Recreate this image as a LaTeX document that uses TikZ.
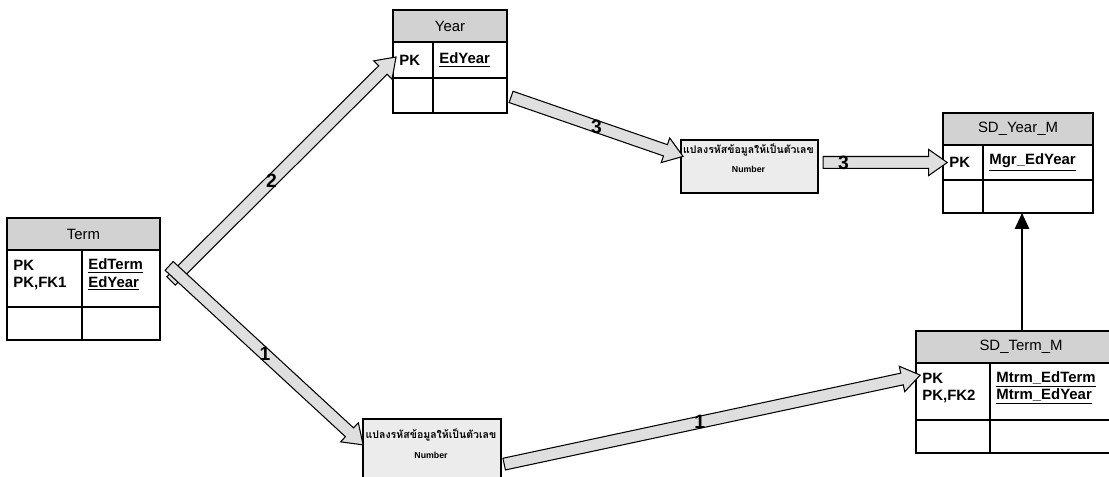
\documentclass[tikz,border=0pt]{standalone}
\usepackage{fontspec}
\setmainfont{Liberation Sans}
\newfontfamily\thaifont[Script=Thai]{Loma}
\usetikzlibrary{shapes.arrows,arrows.meta,positioning,calc}

\begin{document}
\begin{tikzpicture}[
    y=-1cm,
    hdr/.style={rectangle, draw, line width=1pt, fill=gray!35, anchor=north west,
                inner sep=0pt, outer sep=0pt, font=\fontsize{8.5}{10}\selectfont},
    cell/.style={rectangle, draw, line width=1pt, inner sep=0pt, outer sep=0pt},
    celltxt/.style={align=left, inner sep=0pt, font=\fontsize{8.5}{9.8}\selectfont\bfseries},
    proc/.style={rectangle, draw, line width=1pt, fill=gray!15, anchor=north west},
    thaitxt/.style={inner sep=0pt, font=\thaifont\fontsize{6}{7}\selectfont\bfseries},
    numtxt/.style={inner sep=0pt, font=\fontsize{5}{6}\selectfont\bfseries},
    blockarr/.style={single arrow, draw, semithick, fill=gray!25, inner sep=3.1pt,
                     outer sep=0pt, single arrow head extend=4pt,
                     single arrow tip angle=70, single arrow head indent=0pt},
    linkarr/.style={-{Triangle[length=9pt, width=8pt]}, line width=1.2pt},
    num/.style={inner sep=0pt, font=\fontsize{11}{12}\selectfont\bfseries}
]
\clip (0,0) rectangle (22.18,9.54);
\fill[white] (0,0) rectangle (22.18,9.54);

% Term
\node[hdr, minimum width=3.06cm, minimum height=0.64cm] (termh) at (0.14,4.36) {Term};
\node[cell, minimum width=1.50cm, minimum height=1.14cm, below right=0pt and 0pt of termh.south west] (termk) {};
\node[cell, minimum width=1.56cm, minimum height=1.14cm, right=0pt of termk] (terma) {};
\node[cell, minimum width=1.50cm, minimum height=0.66cm, below=0pt of termk] (termk2) {};
\node[cell, minimum width=1.56cm, minimum height=0.66cm, below=0pt of terma] (terma2) {};
\node[celltxt, right=0.12cm of termk.west, yshift=2pt] (termkt) {PK\\PK,FK1};
\node[celltxt, right=0.12cm of terma.west, yshift=2pt] (termat) {\underline{EdTerm}\\\underline{EdYear}};

% Year
\node[hdr, minimum width=2.28cm, minimum height=0.64cm] (yearh) at (7.86,0.20) {Year};
\node[cell, minimum width=0.80cm, minimum height=0.72cm, below right=0pt and 0pt of yearh.south west] (yeark) {};
\node[cell, minimum width=1.48cm, minimum height=0.72cm, right=0pt of yeark] (yeara) {};
\node[cell, minimum width=0.80cm, minimum height=0.70cm, below=0pt of yeark] (yeark2) {};
\node[cell, minimum width=1.48cm, minimum height=0.70cm, below=0pt of yeara] (yeara2) {};
\node[celltxt, right=0.12cm of yeark.west] (yearkt) {PK};
\node[celltxt, right=0.12cm of yeara.west] (yearat) {\underline{EdYear}};

% SD_Year_M
\node[hdr, minimum width=3.00cm, minimum height=0.64cm] (sdyh) at (18.86,2.26) {SD\_Year\_M};
\node[cell, minimum width=0.80cm, minimum height=0.70cm, below right=0pt and 0pt of sdyh.south west] (sdyk) {};
\node[cell, minimum width=2.20cm, minimum height=0.70cm, right=0pt of sdyk] (sdya) {};
\node[cell, minimum width=0.80cm, minimum height=0.66cm, below=0pt of sdyk] (sdyk2) {};
\node[cell, minimum width=2.20cm, minimum height=0.66cm, below=0pt of sdya] (sdya2) {};
\node[celltxt, right=0.12cm of sdyk.west] (sdykt) {PK};
\node[celltxt, right=0.12cm of sdya.west] (sdyat) {\underline{Mgr\_EdYear}};

% SD_Term_M
\node[hdr, minimum width=4.20cm, minimum height=0.64cm] (sdth) at (18.32,6.62) {SD\_Term\_M};
\node[cell, minimum width=1.48cm, minimum height=1.14cm, below right=0pt and 0pt of sdth.south west] (sdtk) {};
\node[cell, minimum width=2.72cm, minimum height=1.14cm, right=0pt of sdtk] (sdta) {};
\node[cell, minimum width=1.48cm, minimum height=0.66cm, below=0pt of sdtk] (sdtk2) {};
\node[cell, minimum width=2.72cm, minimum height=0.66cm, below=0pt of sdta] (sdta2) {};
\node[celltxt, right=0.12cm of sdtk.west, yshift=2pt] (sdtkt) {PK\\PK,FK2};
\node[celltxt, right=0.12cm of sdta.west, yshift=2pt] (sdtat) {\underline{Mtrm\_EdTerm}\\\underline{Mtrm\_EdYear}};

% conversion steps
\node[proc, minimum width=2.74cm, minimum height=1.06cm] (procy) at (13.60,2.78) {};
\node[thaitxt] (procyt) at (14.97,3.00) {แปลงรหัสข้อมูลให้เป็นตัวเลข};
\node[numtxt] (procyn) at (14.97,3.38) {Number};
\node[proc, minimum width=2.76cm, minimum height=1.40cm] (procm) at (7.24,8.36) {};
\node[thaitxt] (procmt) at (8.62,8.70) {แปลงรหัสข้อมูลให้เป็นตัวเลข};
\node[numtxt] (procmn) at (8.62,9.10) {Number};

% free ends of the flows
\coordinate (a1s) at (3.36,5.68);
\coordinate (a2s) at (3.32,5.26);
\coordinate (a2e) at (7.20,8.84);
\coordinate (a3e) at (13.58,3.10);
\coordinate (a5s) at (10.00,9.30);
\coordinate (a5e) at (18.32,7.52);

% flows
\path let \p1=($(yeark.west)-(a1s)$), \n1={veclen(\x1,\y1)}, \n2={atan2(\y1,\x1)} in
    node[blockarr, minimum height=\n1, rotate=\n2] (flow1) at ($(a1s)!0.5!(yeark.west)$) {};
\path let \p1=($(a2e)-(a2s)$), \n1={veclen(\x1,\y1)}, \n2={atan2(\y1,\x1)} in
    node[blockarr, minimum height=\n1, rotate=\n2] (flow2) at ($(a2s)!0.5!(a2e)$) {};
\path let \p1=($(a3e)-(yeara2.east)$), \n1={veclen(\x1,\y1)}, \n2={atan2(\y1,\x1)} in
    node[blockarr, minimum height=\n1, rotate=\n2] (flow3) at ($(yeara2.east)!0.5!(a3e)$) {};
\path let \p1=($(sdyk.west)-(procy.east |- sdyk.west)$), \n1={veclen(\x1,\y1)} in
    node[blockarr, minimum height=\n1] (flow4) at ($(procy.east |- sdyk.west)!0.5!(sdyk.west)$) {};
\path let \p1=($(a5e)-(a5s)$), \n1={veclen(\x1,\y1)}, \n2={atan2(\y1,\x1)} in
    node[blockarr, minimum height=\n1, rotate=\n2] (flow5) at ($(a5s)!0.5!(a5e)$) {};

% step numbers
\node[num] (n1) at ($(a1s)!0.46!(yeark.west)$) {2};
\node[num] (n2) at ($(a2s)!0.51!(a2e)$) {1};
\node[num] (n3) at ($(yeara2.east)!0.52!(a3e)$) {3};
\node[num] (n4) at ($(procy.east |- sdyk.west)!0.2!(sdyk.west)$) {3};
\node[num] (n5) at ($(a5s)!0.48!(a5e)$) {1};

% link
\draw[linkarr] ([xshift=0.08cm]sdth.north -| sdyh.south) -- ([xshift=0.08cm]sdyh.south |- sdyk2.south);

\end{tikzpicture}
\end{document}
